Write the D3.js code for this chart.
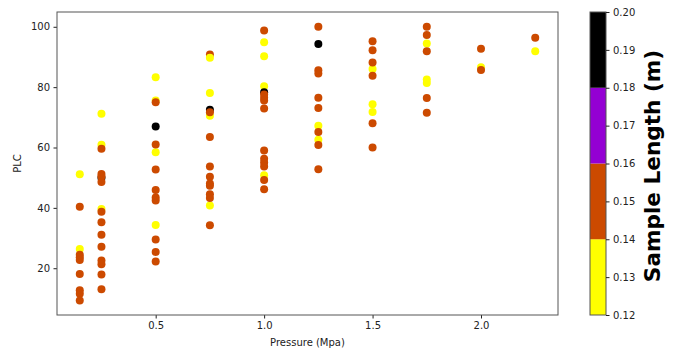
<!DOCTYPE html>
<html><head><meta charset="utf-8">
<script src="https://cdn.jsdelivr.net/npm/d3@7"></script>
<style>
html,body{margin:0;padding:0;background:#fff;}
text{font-family:"DejaVu Sans",sans-serif;}
</style></head>
<body><svg id="chart" width="679" height="349"></svg>
<script>
// Data: one entry per pressure level (drawing order within each level)
const pressures = [0.15, 0.25, 0.5, 0.75, 1.0, 1.25, 1.5, 1.75, 2.0, 2.25];
const plcValues = [
  [51.1,26.4,40.4,24.5,23.6,22.7,18.1,12.7,11.5,9.3],
  [71.2,60.9,39.6,50.0,59.6,51.2,50.4,48.6,38.7,35.2,31.1,27.1,22.6,21.3,17.9,13.0],
  [83.3,75.6,58.4,34.3,67.0,75.0,61.0,52.7,45.9,43.4,42.4,29.5,25.4,22.2],
  [78.1,70.5,40.8,72.5,90.8,71.7,63.5,53.7,50.3,48.1,47.3,44.5,43.3,34.2,89.7],
  [94.9,90.2,80.3,50.8,78.3,98.8,77.6,76.5,75.6,72.9,59.0,56.3,55.0,53.7,49.2,46.2],
  [67.2,62.6,94.3,100.0,85.6,84.5,76.5,73.1,65.1,60.8,52.8],
  [86.0,74.3,71.8,95.2,92.2,88.2,83.8,68.0,60.0],
  [94.5,82.5,81.4,100.0,97.3,91.9,76.4,71.5],
  [86.6,92.7,85.7],
  [96.4,91.9]
];
const sampleLengths = [
  [0.13,0.13,0.15,0.15,0.15,0.15,0.15,0.15,0.15,0.15],
  [0.13,0.13,0.13,0.19,0.15,0.15,0.15,0.15,0.15,0.15,0.15,0.15,0.15,0.15,0.15,0.15],
  [0.13,0.13,0.13,0.13,0.19,0.15,0.15,0.15,0.15,0.15,0.15,0.15,0.15,0.15],
  [0.13,0.13,0.13,0.19,0.15,0.15,0.15,0.15,0.15,0.15,0.15,0.15,0.15,0.15,0.13],
  [0.13,0.13,0.13,0.13,0.19,0.15,0.15,0.15,0.15,0.15,0.15,0.15,0.15,0.15,0.15,0.15],
  [0.13,0.13,0.19,0.15,0.15,0.15,0.15,0.15,0.15,0.15,0.15],
  [0.13,0.13,0.13,0.15,0.15,0.15,0.15,0.15,0.15],
  [0.13,0.13,0.13,0.15,0.15,0.15,0.15,0.15],
  [0.13,0.15,0.15],
  [0.15,0.13]
];
const xTicks = [0.5,1.0,1.5,2.0];
const yTicks = [20,40,60,80,100];
const cbTicks = [0.12,0.13,0.14,0.15,0.16,0.17,0.18,0.19,0.20];
const cbBounds = [0.12,0.14,0.16,0.18,0.20];
const cbColors = ["#ffff00","#cc4a00","#9400d3","#000000"];

const svg = d3.select("#chart");
const m = {left:57, right:558, top:12, bottom:315};
const x = d3.scaleLinear().domain([0.045,2.355]).range([m.left,m.right]);
const y = d3.scaleLinear().domain([4.5,104.9]).range([m.bottom,m.top]);
const color = d3.scaleThreshold().domain(cbBounds.slice(1,-1)).range(cbColors);

// points
const pts = pressures.flatMap((p,i)=>plcValues[i].map((v,j)=>({p, v, s:sampleLengths[i][j]})));
svg.append("g").selectAll("circle").data(pts).join("circle")
  .attr("cx",d=>x(d.p)).attr("cy",d=>y(d.v)).attr("r",4)
  .attr("fill",d=>color(d.s));

// axes
const xAxis = svg.append("g").attr("transform",`translate(0,${m.bottom})`)
  .call(d3.axisBottom(x).tickValues(xTicks).tickFormat(d3.format(".1f")).tickSize(3.5).tickPadding(3.5));
const yAxis = svg.append("g").attr("transform",`translate(${m.left},0)`)
  .call(d3.axisLeft(y).tickValues(yTicks).tickSize(3.5).tickPadding(3.5));
[xAxis,yAxis].forEach(a=>{
  a.select(".domain").remove();
  a.selectAll("text").attr("font-size","10px").attr("fill","#222").attr("font-family","DejaVu Sans");
  a.selectAll("line").attr("stroke","#222");
});
svg.append("rect").attr("x",m.left).attr("y",m.top).attr("width",m.right-m.left).attr("height",m.bottom-m.top)
  .attr("fill","none").attr("stroke","#555").attr("stroke-width",1);

svg.append("text").attr("x",(m.left+m.right)/2).attr("y",346).attr("text-anchor","middle")
  .attr("font-size","10px").attr("fill","#222").text("Pressure (Mpa)");
svg.append("text").attr("transform",`translate(21,${(m.top+m.bottom)/2}) rotate(-90)`).attr("text-anchor","middle")
  .attr("font-size","10px").attr("fill","#222").text("PLC");

// colorbar
const cb = {x:590, w:16, top:12, bottom:315};
const cy = d3.scaleLinear().domain([0.12,0.20]).range([cb.bottom,cb.top]);
svg.append("g").selectAll("rect").data(cbColors).join("rect")
  .attr("x",cb.x).attr("width",cb.w)
  .attr("y",(d,i)=>cy(cbBounds[i+1])).attr("height",(d,i)=>cy(cbBounds[i])-cy(cbBounds[i+1]))
  .attr("fill",d=>d);
svg.append("rect").attr("x",cb.x).attr("y",cb.top).attr("width",cb.w).attr("height",cb.bottom-cb.top)
  .attr("fill","none").attr("stroke","#555").attr("stroke-width",1);
const cAxis = svg.append("g").attr("transform",`translate(${cb.x+cb.w},0)`)
  .call(d3.axisRight(cy).tickValues(cbTicks).tickFormat(d3.format(".2f")).tickSize(3.5).tickPadding(3.5));
cAxis.select(".domain").remove();
cAxis.selectAll("text").attr("font-size","10px").attr("fill","#222").attr("font-family","DejaVu Sans");
cAxis.selectAll("line").attr("stroke","#222");
svg.append("text").attr("transform",`translate(660,166) rotate(-90)`).attr("text-anchor","middle")
  .attr("font-size","21.6px").attr("font-weight","bold").attr("fill","#000").text("Sample Length (m)");
</script></body></html>
